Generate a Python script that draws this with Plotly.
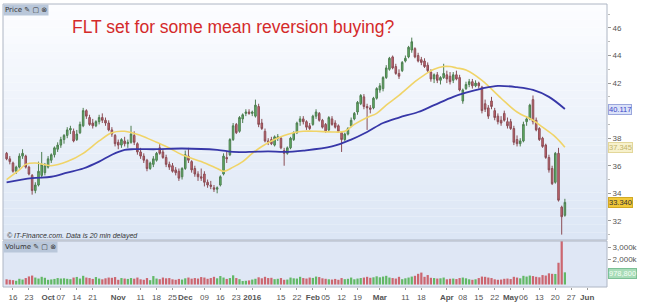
import pandas as pd
import plotly.graph_objects as go

# ---------------- data ----------------
holidays = ["2015-12-25", "2015-12-28", "2016-01-01", "2016-01-26",
            "2016-03-25", "2016-03-28", "2016-04-25"]

# daily candles from 2015-09-14 to 2016-05-25 (ASX trading days)
open_ = [
    36.9, 36.5, 36.2, 35.6, 35.9, 36.7, 36.7, 35.9, 35.3, 34.2,
    34.6, 35.3, 35.5, 35.9, 36.4, 36.8, 37.2, 37.5, 37.9, 38.2,
    38.6, 38.5, 37.9, 38.4, 38.9, 40.0, 39.5, 39.1, 38.9, 39.2,
    39.5, 39.3, 39.1, 38.6, 38.2, 37.7, 37.5, 37.8, 37.6, 37.7,
    38.2, 37.6, 37.0, 36.7, 36.4, 35.8, 36.1, 36.4, 37.3, 37.0,
    36.6, 36.1, 36.0, 35.7, 35.6, 35.2, 35.8, 36.7, 36.3, 35.8,
    35.4, 35.2, 35.4, 34.8, 34.6, 34.4, 34.3, 34.6, 35.4, 36.6,
    36.8, 37.9, 39.0, 38.5, 39.4, 39.8, 39.9, 39.8, 39.6, 40.3,
    39.1, 38.5, 37.8, 37.9, 37.5, 38.0, 38.0, 37.1, 36.9, 37.3,
    37.9, 38.4, 39.2, 39.4, 39.2, 38.9, 39.0, 39.6, 39.8, 39.3,
    39.0, 38.6, 39.4, 39.1, 38.9, 38.4, 37.9, 38.3, 38.9, 39.4,
    39.9, 40.5, 41.0, 40.3, 40.2, 40.2, 40.9, 41.5, 41.6, 42.4,
    43.0, 43.9, 43.2, 42.7, 42.9, 43.6, 43.9, 44.4, 44.5, 44.0,
    43.7, 43.6, 43.3, 42.8, 42.3, 42.6, 42.2, 42.4, 42.6, 42.5,
    42.2, 42.6, 42.4, 40.7, 41.6, 41.9, 42.1, 41.8, 42.0, 41.7,
    40.5, 40.2, 40.7, 40.0, 39.6, 39.3, 39.8, 39.2, 39.2, 38.7,
    37.9, 37.6, 37.8, 39.2, 39.4, 40.8, 39.3, 38.7, 38.0, 37.5,
    36.6, 35.8, 34.8, 36.9, 33.0, 32.4]
high = [
    37.0, 36.7, 36.3, 36.0, 36.9, 37.2, 36.8, 36.0, 35.4, 34.8,
    36.3, 37.0, 36.2, 36.7, 36.9, 37.4, 37.7, 38.1, 38.3, 38.8,
    38.9, 38.7, 38.6, 39.2, 40.2, 40.1, 39.7, 39.4, 39.3, 39.7,
    39.8, 39.5, 39.3, 38.8, 38.3, 37.9, 38.0, 38.1, 37.9, 38.9,
    38.5, 37.7, 37.3, 36.9, 36.5, 36.3, 36.7, 37.0, 37.6, 37.2,
    36.8, 36.3, 36.2, 35.9, 35.8, 35.9, 37.1, 37.3, 36.4, 36.0,
    35.6, 35.8, 35.6, 35.0, 34.9, 34.6, 34.5, 35.3, 36.9, 37.0,
    38.0, 39.1, 39.1, 39.6, 39.8, 40.1, 40.1, 40.0, 40.8, 40.5,
    39.4, 38.7, 38.0, 38.1, 38.2, 38.3, 38.1, 37.3, 37.4, 38.1,
    38.5, 39.2, 39.6, 39.6, 39.3, 39.1, 39.7, 40.1, 39.9, 39.4,
    39.1, 39.6, 39.6, 39.3, 39.0, 38.5, 38.4, 38.8, 39.5, 39.9,
    40.7, 41.2, 41.2, 40.5, 40.4, 41.0, 41.7, 42.0, 42.5, 43.3,
    43.9, 44.0, 43.4, 43.0, 43.6, 44.0, 44.7, 45.3, 44.6, 44.2,
    43.9, 43.8, 43.5, 43.0, 42.7, 42.8, 42.5, 43.4, 42.9, 42.8,
    42.8, 42.9, 42.6, 41.6, 42.1, 42.3, 42.3, 42.2, 42.1, 41.8,
    40.8, 40.4, 41.0, 40.2, 39.8, 39.6, 40.0, 39.5, 39.4, 38.9,
    38.2, 38.0, 39.2, 39.6, 40.5, 41.1, 39.5, 38.8, 38.1, 37.6,
    36.8, 36.0, 37.0, 37.3, 33.1, 33.6]
low = [
    36.4, 36.1, 35.5, 35.4, 35.8, 36.5, 35.8, 35.3, 33.9, 34.0,
    34.5, 35.1, 35.3, 35.8, 36.2, 36.6, 37.0, 37.3, 37.6, 38.0,
    38.3, 37.7, 37.8, 38.3, 38.8, 39.4, 38.9, 38.7, 38.8, 39.0,
    39.1, 38.9, 38.5, 38.1, 37.4, 37.2, 37.3, 37.4, 37.3, 37.6,
    37.5, 36.8, 36.5, 36.2, 35.6, 35.7, 35.9, 36.3, 36.8, 36.5,
    35.9, 35.7, 35.5, 35.3, 34.9, 35.0, 35.7, 36.2, 35.5, 35.2,
    34.9, 34.9, 34.5, 34.4, 34.3, 34.1, 34.0, 34.5, 35.3, 36.2,
    36.7, 37.8, 38.3, 38.4, 39.1, 39.6, 39.7, 39.6, 39.5, 38.8,
    38.6, 37.7, 37.5, 37.5, 37.4, 37.8, 37.2, 36.0, 36.8, 37.2,
    37.8, 38.3, 38.9, 39.0, 38.6, 38.6, 38.9, 39.4, 39.2, 38.7,
    38.4, 38.5, 38.9, 38.7, 38.4, 37.0, 37.8, 38.2, 38.8, 39.3,
    39.7, 40.4, 40.1, 38.6, 39.8, 40.1, 40.8, 41.3, 41.4, 42.3,
    42.9, 43.0, 42.6, 42.3, 42.8, 43.5, 43.8, 44.2, 43.8, 43.5,
    43.3, 43.1, 42.8, 42.1, 42.0, 42.0, 41.9, 42.3, 42.0, 41.9,
    42.0, 42.2, 41.4, 40.5, 41.5, 41.7, 41.6, 41.7, 41.6, 39.8,
    39.9, 39.4, 40.1, 39.3, 39.0, 38.9, 39.2, 38.7, 38.6, 37.5,
    37.4, 37.4, 37.7, 38.9, 39.3, 39.0, 38.5, 37.8, 37.3, 36.5,
    35.5, 34.6, 34.7, 33.4, 31.0, 32.3]
close = [
    36.5, 36.3, 35.6, 35.9, 36.7, 36.9, 35.9, 35.4, 34.2, 34.6,
    35.6, 36.1, 36.0, 36.5, 36.8, 37.3, 37.5, 37.9, 38.2, 38.6,
    38.7, 37.8, 38.3, 39.0, 40.0, 39.6, 39.0, 38.9, 39.2, 39.5,
    39.3, 39.1, 38.6, 38.3, 37.6, 37.5, 37.9, 37.6, 37.7, 38.3,
    37.7, 37.0, 36.7, 36.4, 35.8, 36.2, 36.5, 36.9, 36.9, 36.6,
    36.1, 35.9, 35.6, 35.5, 35.1, 35.8, 36.8, 36.4, 35.7, 35.4,
    35.2, 35.1, 34.8, 34.6, 34.5, 34.3, 34.4, 35.2, 36.7, 36.5,
    37.9, 38.9, 38.4, 39.5, 39.7, 39.9, 39.8, 39.9, 40.4, 39.0,
    38.7, 37.8, 37.7, 37.6, 38.1, 38.1, 37.3, 36.9, 37.3, 38.0,
    38.4, 39.1, 39.4, 39.2, 38.8, 38.7, 39.6, 39.9, 39.3, 38.8,
    38.5, 39.5, 39.0, 38.8, 38.5, 37.9, 38.3, 38.7, 39.3, 39.8,
    40.6, 41.1, 40.3, 40.2, 40.1, 40.9, 41.6, 41.8, 42.4, 43.1,
    43.8, 43.1, 42.7, 42.5, 43.5, 43.8, 44.6, 45.0, 43.9, 43.6,
    43.5, 43.2, 42.9, 42.3, 42.6, 42.2, 42.4, 42.7, 42.3, 42.1,
    42.6, 42.3, 41.5, 41.5, 41.9, 42.1, 41.8, 42.0, 41.8, 40.0,
    40.1, 39.6, 40.3, 39.5, 39.2, 39.1, 39.3, 38.9, 38.7, 37.7,
    37.6, 37.8, 39.0, 39.4, 40.4, 39.2, 38.6, 37.9, 37.4, 36.6,
    35.7, 34.7, 36.9, 33.5, 32.3, 33.34]
volume_k = [
    420, 380, 350, 300, 460, 400, 520, 650, 720, 560, 480, 620, 540, 380, 410, 450, 520, 480, 500, 460,
    430, 560, 610, 480, 700, 560, 520, 450, 600, 480, 420, 500, 560, 540, 600, 380, 520, 480, 450, 520,
    470, 560, 420, 380, 520, 350, 680, 480, 430, 560, 500, 520, 420, 380, 450, 400, 500, 560, 470, 520,
    480, 600, 560, 460, 520, 620, 500, 680, 560, 450, 520, 740, 520, 430, 280, 300, 330, 400, 460, 580,
    500, 620, 520, 540, 430, 460, 520, 380, 400, 560, 500, 480, 620, 520, 480, 560, 530, 640, 600, 500,
    460, 420, 400, 450, 380, 520, 430, 460, 560, 420, 480, 520, 560, 620, 540, 580, 660, 580, 640, 700,
    560, 520, 480, 620, 430, 500, 560, 640, 700, 860, 960, 620, 760, 540, 520, 480, 500, 560, 420, 460,
    480, 440, 520, 560, 500, 420, 380, 420, 520, 640, 620, 560, 520, 420, 380, 400, 460, 480, 440, 620,
    560, 500, 700, 640, 720, 680, 620, 580, 760, 720, 900, 860, 850, 1750, 4100, 978.8]

# moving averages
ma_fast_dates = ["2015-09-14", "2015-09-18", "2015-09-22", "2015-09-25", "2015-10-02", "2015-10-09",
                 "2015-10-16", "2015-10-23", "2015-10-29", "2015-11-04", "2015-11-11", "2015-11-18",
                 "2015-11-23", "2015-11-30", "2015-12-08", "2015-12-15", "2015-12-17", "2015-12-22",
                 "2015-12-29", "2016-01-04", "2016-01-07", "2016-01-13", "2016-01-18", "2016-01-21",
                 "2016-01-27", "2016-02-02", "2016-02-09", "2016-02-15", "2016-02-18", "2016-02-24",
                 "2016-02-29", "2016-03-03", "2016-03-09", "2016-03-16", "2016-03-21", "2016-03-24",
                 "2016-03-31", "2016-04-04", "2016-04-06", "2016-04-11", "2016-04-18", "2016-04-27",
                 "2016-05-04", "2016-05-11", "2016-05-16", "2016-05-20", "2016-05-25"]
ma_fast = [35.0, 35.7, 36.1, 36.2, 36.0, 36.3, 36.9, 37.8, 38.4, 38.5, 38.2, 37.7,
           37.4, 36.8, 36.3, 35.8, 35.6, 35.9, 36.3, 36.9, 37.4, 37.9, 38.2, 38.4,
           38.5, 38.5, 38.45, 38.5, 39.0, 39.5, 39.8, 40.4, 41.1, 42.1, 42.6, 43.0,
           43.2, 43.2, 43.1, 42.95, 42.2, 40.9, 39.9, 39.3, 38.8, 38.1, 37.345]
ma_slow_dates = ["2015-09-14", "2015-09-24", "2015-10-02", "2015-10-09", "2015-10-16", "2015-10-23",
                 "2015-10-29", "2015-11-04", "2015-11-09", "2015-11-18", "2015-11-30", "2015-12-15",
                 "2015-12-22", "2015-12-31", "2016-01-11", "2016-01-18", "2016-01-27", "2016-02-09",
                 "2016-02-17", "2016-02-24", "2016-03-02", "2016-03-09", "2016-03-17", "2016-03-24",
                 "2016-04-05", "2016-04-11", "2016-04-18", "2016-04-26", "2016-05-04", "2016-05-11",
                 "2016-05-18", "2016-05-25"]
ma_slow = [34.8, 35.1, 35.2, 35.5, 35.8, 36.3, 36.8, 37.15, 37.2, 37.2, 37.25, 37.15,
           37.0, 37.0, 37.05, 37.0, 37.1, 37.4, 37.9, 38.45, 39.1, 39.5, 39.9, 40.4,
           41.0, 41.3, 41.6, 41.8, 41.7, 41.5, 41.0, 40.117]

tick_dates = ["2015-09-16", "2015-09-23", "2015-10-01", "2015-10-07", "2015-10-14", "2015-10-21",
              "2015-11-02", "2015-11-11", "2015-11-18", "2015-11-25", "2015-12-01", "2015-12-09",
              "2015-12-16", "2015-12-23", "2016-01-04", "2016-01-15", "2016-01-22", "2016-02-01",
              "2016-02-05", "2016-02-12", "2016-02-19", "2016-03-01", "2016-03-11", "2016-03-18",
              "2016-04-01", "2016-04-08", "2016-04-15", "2016-04-22", "2016-05-02", "2016-05-06",
              "2016-05-13", "2016-05-20", "2016-05-27", "2016-06-01"]
tick_labels = ["16", "23", "<b>Oct</b>", "07", "14", "21", "<b>Nov</b>", "11", "18", "25",
               "<b>Dec</b>", "09", "16", "23", "<b>2016</b>", "15", "22", "<b>Feb</b>", "05", "12",
               "19", "<b>Mar</b>", "11", "18", "<b>Apr</b>", "08", "15", "22", "<b>May</b>", "06",
               "13", "20", "27", "<b>Jun</b>"]

# ---------------- axis: trading days for history, calendar days for the future ----------------
hol = set(pd.to_datetime(holidays))
start = pd.Timestamp("2015-09-14")
hist = [d for d in pd.bdate_range(start, periods=260) if d not in hol][:len(close)]
future = list(pd.date_range(hist[-1] + pd.Timedelta(days=1), periods=20, freq="D"))
days = hist + future
pos = {d.strftime("%Y-%m-%d"): i for i, d in enumerate(days)}
n = len(close)
xc = list(range(n))
x_fast = [pos[d] for d in ma_fast_dates]
x_slow = [pos[d] for d in ma_slow_dates]
tickvals = [pos[d] for d in tick_dates]

GREEN_FILL, RED_FILL = "#62b866", "#cc6670"
vol_colors = [GREEN_FILL if c >= o else RED_FILL for o, c in zip(open_, close)]

fig = go.Figure()
fig.add_trace(go.Candlestick(
    x=xc, open=open_, high=high, low=low, close=close,
    increasing=dict(fillcolor=GREEN_FILL, line=dict(color="#4d7d50", width=1)),
    decreasing=dict(fillcolor=RED_FILL, line=dict(color="#8a4d55", width=1)),
    whiskerwidth=0, xaxis="x", yaxis="y", hoverinfo="skip"))
fig.add_trace(go.Scatter(x=x_fast, y=ma_fast, mode="lines",
                         line=dict(color="#f0d468", width=1.6, shape="spline", smoothing=1.0),
                         xaxis="x", yaxis="y", hoverinfo="skip"))
fig.add_trace(go.Scatter(x=x_slow, y=ma_slow, mode="lines",
                         line=dict(color="#3737a8", width=1.8, shape="spline", smoothing=1.0),
                         xaxis="x", yaxis="y", hoverinfo="skip"))
fig.add_trace(go.Bar(x=xc, y=volume_k, marker=dict(color=vol_colors, line=dict(width=0)),
                     xaxis="x2", yaxis="y2", hoverinfo="skip"))

# geometry
W, H = 646, 307
ML, MR, MT, MB = 3, 39, 4, 20
ph = H - MT - MB
price_bottom = (287 - 240) / ph
vol_top = (287 - 241) / ph
xrange_ = [-1.13, 188.2]

# background gradient for the price panel
shapes = []
NB = 30
top_c, bot_c = (252, 253, 255), (220, 230, 245)
for i in range(NB):
    f = i / (NB - 1)
    c = tuple(int(round(top_c[k] + (bot_c[k] - top_c[k]) * f)) for k in range(3))
    shapes.append(dict(type="rect", xref="paper", yref="paper", x0=0, x1=1,
                       y0=1 - (1 - price_bottom) * (i + 1) / NB,
                       y1=1 - (1 - price_bottom) * i / NB,
                       fillcolor="rgb(%d,%d,%d)" % c, line=dict(width=0), layer="below"))
shapes.append(dict(type="rect", xref="paper", yref="paper", x0=0, x1=1, y0=0, y1=vol_top,
                   fillcolor="#dfe7f5", line=dict(width=0), layer="below"))
shapes.append(dict(type="rect", xref="paper", yref="paper", x0=0, x1=1, y0=price_bottom, y1=1,
                   fillcolor="rgba(0,0,0,0)", line=dict(color="#aeb6c4", width=1)))
shapes.append(dict(type="rect", xref="paper", yref="paper", x0=0, x1=1, y0=0, y1=vol_top,
                   fillcolor="rgba(0,0,0,0)", line=dict(color="#aeb6c4", width=1)))

tickfont = dict(family="Liberation Sans, Arial", size=8, color="#555555")
label_font = dict(family="Liberation Sans, Arial", size=7.5)

annotations = [
    dict(text="FLT set for some mean reversion buying?", xref="paper", yref="paper",
         x=(70 - ML) / (W - ML - MR), y=(287 - 27) / ph, xanchor="left", yanchor="middle",
         showarrow=False, font=dict(family="Liberation Sans, Arial", size=17.5, color="#d42a2a")),
    dict(text="Price \u270e \u25a2 \u2297", xref="paper", yref="paper", x=0, y=1,
         xanchor="left", yanchor="top", showarrow=False, bgcolor="#b9c7da",
         font=dict(family="DejaVu Sans", size=7, color="#333"), borderpad=1),
    dict(text="Volume \u270e \u25a2 \u2297", xref="paper", yref="paper", x=0, y=vol_top,
         xanchor="left", yanchor="top", showarrow=False, bgcolor="#b9c7da",
         font=dict(family="DejaVu Sans", size=7, color="#333"), borderpad=1),
    dict(text="<i>\u00a9 IT-Finance.com. Data is 20 min delayed</i>", xref="paper", yref="paper",
         x=0.004, y=(287 - 236) / ph, xanchor="left", yanchor="middle", showarrow=False,
         font=dict(family="Liberation Sans, Arial", size=7, color="#333")),
    dict(text="%.3f" % ma_slow[-1], xref="paper", yref="y", x=1, y=ma_slow[-1], xanchor="left",
         xshift=1, showarrow=False, bgcolor="#dbe2f8", bordercolor="#9aa6dc", borderwidth=1, borderpad=0,
         font=dict(label_font, color="#3b47c8")),
    dict(text="%.3f" % ma_fast[-1], xref="paper", yref="y", x=1, y=ma_fast[-1], xanchor="left",
         xshift=1, showarrow=False, bgcolor="#f7f1cc", bordercolor="#e3d79a", borderwidth=1, borderpad=0,
         font=dict(label_font, color="#c2b46a")),
    dict(text="%.3f" % close[-1], xref="paper", yref="y", x=1, y=close[-1], xanchor="left",
         xshift=1, showarrow=False, bgcolor="#f0c83a", bordercolor="#d1a925", borderwidth=1, borderpad=0,
         font=dict(label_font, color="#333")),
    dict(text="{:,.0f}".format(volume_k[-1] * 1000), xref="paper", yref="y2", x=1, y=volume_k[-1] * 0.9,
         xanchor="left", xshift=1, showarrow=False, bgcolor="#a8dcb8", bordercolor="#7cc096", borderwidth=1,
         borderpad=0, font=dict(label_font, color="#f4fff6")),
]

fig.update_layout(
    width=W, height=H, margin=dict(l=ML, r=MR, t=MT, b=MB),
    paper_bgcolor="white", plot_bgcolor="rgba(0,0,0,0)",
    showlegend=False, hovermode=False, bargap=0.3,
    shapes=shapes, annotations=annotations,
    xaxis=dict(domain=[0, 1], anchor="y", range=xrange_, showticklabels=False, showgrid=False,
               zeroline=False, rangeslider=dict(visible=False), fixedrange=True),
    xaxis2=dict(domain=[0, 1], anchor="y2", matches="x", range=xrange_, showgrid=False, zeroline=False,
                tickmode="array", tickvals=tickvals, ticktext=tick_labels, tickfont=tickfont,
                ticks="outside", ticklen=2, tickcolor="#999", tickangle=0),
    yaxis=dict(domain=[price_bottom, 1], anchor="x", side="right", range=[30.61, 47.74],
               tickmode="array", tickvals=[32, 34, 36, 38, 42, 44, 46], tickfont=tickfont,
               ticks="outside", ticklen=3, tickcolor="#999", showgrid=False, zeroline=False,
               minor=dict(tickmode="linear", tick0=31, dtick=1, ticks="outside", ticklen=2, tickcolor="#bbb")),
    yaxis2=dict(domain=[0, vol_top], anchor="x2", side="right", range=[-200, 3500],
                tickmode="array", tickvals=[2000, 3000], ticktext=["2,000k", "3,000k"], tickfont=tickfont,
                ticks="outside", ticklen=3, tickcolor="#999", showgrid=False, zeroline=False),
)

fig.write_html("out.html")
